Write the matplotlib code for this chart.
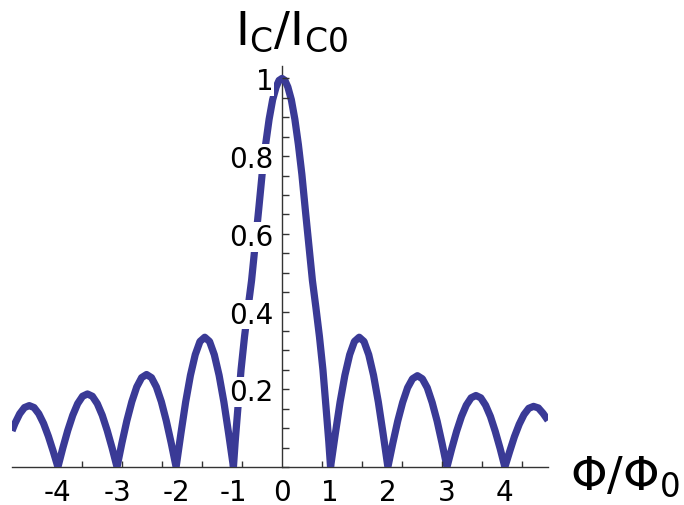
import matplotlib.pyplot as plt
from matplotlib.ticker import MultipleLocator, FixedLocator

# curve points (flux, normalised critical current), lobe by lobe from left to right
flux = [
    -4.615, -4.565, -4.483, -4.402, -4.32, -4.238, -4.157, -4.075, -3.993, -3.912,
    -3.83, -3.746, -3.662, -3.577, -3.493, -3.409, -3.325, -3.241, -3.157, -3.072, -2.988, -2.904,
    -2.82, -2.736, -2.652, -2.567, -2.483, -2.399, -2.315, -2.231, -2.147, -2.062, -1.978, -1.894,
    -1.81, -1.728, -1.647, -1.565, -1.483, -1.402, -1.32, -1.238, -1.157, -1.075, -0.993, -0.912,
    -0.83, -0.80, -0.76, -0.70, -0.64, -0.58, -0.52, -0.45, -0.40, -0.34,
    -0.28, -0.22, -0.16, -0.10, -0.05, 0.0,
    0.05, 0.10, 0.16, 0.22, 0.28, 0.34, 0.40, 0.45, 0.52, 0.58,
    0.64, 0.70, 0.76, 0.80,
    0.83, 0.912, 0.993, 1.075, 1.157, 1.238, 1.32, 1.402, 1.483, 1.565, 1.647, 1.728,
    1.81, 1.894, 1.978, 2.062, 2.147, 2.231, 2.315, 2.399, 2.483, 2.567, 2.652, 2.736,
    2.82, 2.903, 2.985, 3.068, 3.15, 3.233, 3.315, 3.398, 3.48, 3.563, 3.645, 3.728,
    3.81, 3.892, 3.973, 4.055, 4.137, 4.218, 4.30, 4.382, 4.463, 4.547,
]
current = [
    0.093, 0.112, 0.137, 0.153, 0.158, 0.153, 0.137, 0.112, 0.079, 0.041,
    0.0, 0.049, 0.094, 0.133, 0.163, 0.182, 0.188, 0.182, 0.163, 0.133, 0.094, 0.049,
    0.0, 0.062, 0.119, 0.168, 0.206, 0.230, 0.238, 0.230, 0.206, 0.168, 0.119, 0.062,
    0.0, 0.086, 0.167, 0.236, 0.289, 0.323, 0.334, 0.323, 0.289, 0.236, 0.167, 0.086,
    0.0, 0.065, 0.14, 0.25, 0.336, 0.41, 0.48, 0.585, 0.66, 0.753,
    0.83, 0.895, 0.945, 0.978, 0.995, 1.0,
    0.995, 0.978, 0.945, 0.895, 0.83, 0.753, 0.66, 0.585, 0.48, 0.41,
    0.336, 0.25, 0.14, 0.065,
    0.0, 0.086, 0.167, 0.236, 0.289, 0.323, 0.334, 0.323, 0.289, 0.236, 0.167, 0.086,
    0.0, 0.061, 0.118, 0.166, 0.204, 0.227, 0.235, 0.227, 0.204, 0.166, 0.118, 0.061,
    0.0, 0.048, 0.092, 0.130, 0.159, 0.178, 0.184, 0.178, 0.159, 0.130, 0.092, 0.048,
    0.0, 0.040, 0.078, 0.110, 0.135, 0.151, 0.156, 0.152, 0.138, 0.120,
]

# labelled flux positions sit on the minima
xtick_pos = [-3.83, -2.82, -1.81, -0.83, 0.0, 0.82, 1.81, 2.82, 3.81]
xtick_labels = ['-4', '-3', '-2', '-1', '0', '1', '2', '3', '4']
xminor_step = 0.6838
xminor_pos = [k * xminor_step for k in range(-5, 7)]
ytick_pos = [0.2, 0.4, 0.6, 0.8, 1.0]
ytick_labels = ['0.2', '0.4', '0.6', '0.8', '1']

fig = plt.figure(figsize=(6.84, 5.06), dpi=100)
ax = fig.add_axes([12 / 684, 38 / 506, 536 / 684, 401 / 506])

# curve sits over the axis lines but under the tick labels
ax.plot(flux, current, color='#3a3a96', lw=5.2, solid_joinstyle='round',
        solid_capstyle='butt', zorder=1)

ax.set_xlim(-4.615, 4.547)
ax.set_ylim(0, 1.032)

for side in ['top', 'right']:
    ax.spines[side].set_visible(False)
ax.spines['left'].set_position(('data', 0))
for side in ['left', 'bottom']:
    ax.spines[side].set_color('#333333')
    ax.spines[side].set_linewidth(1.0)
    ax.spines[side].set_zorder(0.5)

ax.set_xticks(xtick_pos, labels=xtick_labels)
ax.xaxis.set_minor_locator(FixedLocator(xminor_pos))
ax.tick_params(axis='x', which='major', length=0, pad=8, labelsize=20)
ax.tick_params(axis='x', which='minor', direction='in', length=4.5,
               width=1.0, color='#333333')

ax.set_yticks(ytick_pos, labels=ytick_labels)
ax.yaxis.set_minor_locator(MultipleLocator(0.05))
ax.tick_params(axis='y', which='both', direction='in', length=5,
               width=1.0, color='#333333', pad=6, labelsize=20)

for lab in ax.get_yticklabels():
    lab.set_bbox(dict(facecolor='white', edgecolor='none', pad=0.5))
ax.xaxis.set_zorder(2)
ax.yaxis.set_zorder(2)

fig.text(235 / 684, 1 - 45 / 506, r'I$_\mathregular{C}$/I$_\mathregular{C0}$',
         fontsize=34, ha='left', va='baseline')
fig.text(570 / 684, 1 - 490 / 506, r'$\mathregular{\Phi}$/$\mathregular{\Phi_0}$',
         fontsize=33.5, ha='left', va='baseline')

fig.savefig('out.png', dpi=100)
